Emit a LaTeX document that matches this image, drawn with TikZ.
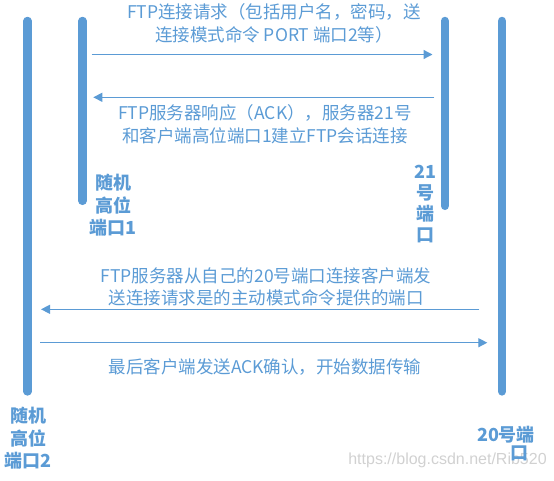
\documentclass[tikz,border=0pt]{standalone}
\usepackage{fontspec}
\setmainfont{Noto Sans CJK SC}
\newfontfamily\markfont{Liberation Sans}
\usetikzlibrary{calc}
\usetikzlibrary{positioning}
\usetikzlibrary{arrows.meta}
\definecolor{ftpblue}{HTML}{5B9BD5}
\tikzstyle{portbar} = [draw=ftpblue, line width=8.3pt, line cap=round]
\tikzstyle{msgarrow} = [draw=ftpblue, line width=1.3pt, -{Triangle[length=9pt, width=9pt]}]
\tikzstyle{msgtext} = [text=ftpblue, align=center, inner sep=0pt, font=\fontsize{17.5}{22.7}\selectfont]
\tikzstyle{portlabel} = [text=ftpblue, align=center, inner sep=0pt, font=\bfseries\fontsize{18}{22.5}\selectfont]

\begin{document}
\begin{tikzpicture}[x=1pt, y=-1pt]
    \useasboundingbox (0,0) rectangle (554,480);

    % port bars
    \coordinate (data_cli_top) at (27.5,20.9);
    \coordinate (data_cli_bot) at ($(data_cli_top)+(0,370.6)$);
    \coordinate (ctrl_cli_top) at (82.5,20.9);
    \coordinate (ctrl_cli_bot) at ($(ctrl_cli_top)+(0,180)$);
    \coordinate (ctrl_srv_top) at (444.8,20.9);
    \coordinate (ctrl_srv_bot) at ($(ctrl_srv_top)+(0,185)$);
    \coordinate (data_srv_top) at (502,20.9);
    \coordinate (data_srv_bot) at ($(data_srv_top)+(0,370.6)$);
    \draw[portbar] (data_cli_top) -- (data_cli_bot);
    \draw[portbar] (ctrl_cli_top) -- (ctrl_cli_bot);
    \draw[portbar] (ctrl_srv_top) -- (ctrl_srv_bot);
    \draw[portbar] (data_srv_top) -- (data_srv_bot);

    % control connection
    \coordinate (req_from) at ($(ctrl_cli_top)+(9.2,33.6)$);
    \coordinate (req_to) at ($(ctrl_srv_top)+(-12.3,33.6)$);
    \coordinate (ack_from) at ($(ctrl_srv_top)+(-10.5,76.4)$);
    \coordinate (ack_to) at ($(ctrl_cli_top)+(10.8,76.4)$);
    \draw[msgarrow] (req_from) -- (req_to);
    \draw[msgarrow] (ack_from) -- (ack_to);
    \node[msgtext] (req_text) at (274,23) {FTP连接请求（包括用户名，密码，送\\连接模式命令 PORT 端口2等）};
    \node[msgtext] (ack_text) at (265,124.3) {FTP服务器响应（ACK），服务器21号\\和客户端高位端口1建立FTP会话连接};

    % data connection
    \coordinate (act_from) at ($(data_srv_top)+(-22.7,288.4)$);
    \coordinate (act_to) at ($(data_cli_top)+(13.5,288.4)$);
    \coordinate (fin_from) at ($(data_cli_top)+(12.5,321.8)$);
    \coordinate (fin_to) at ($(data_srv_top)+(-14.7,321.8)$);
    \draw[msgarrow] (act_from) -- (act_to);
    \draw[msgarrow] (fin_from) -- (fin_to);
    \node[msgtext] (act_text) at (266,286.7) {FTP服务器从自己的20号端口连接客户端发\\送连接请求是的主动模式命令提供的端口};
    \node[msgtext] (fin_text) at (265,367.3) {最后客户端发送ACK确认，开始数据传输};

    \node[text=black!18, inner sep=0pt, font=\markfont\fontsize{16}{18}\selectfont] (watermark) at (447.5,460.5) {https://blog.csdn.net/Rib520};

    % port labels
    \node[portlabel] (ctrl_cli_lbl) at (113,205.5) {随机\\高位\\端口1};
    \node[portlabel, font=\bfseries\fontsize{18}{21}\selectfont] (ctrl_srv_lbl) at (425,204) {21\\号\\端\\口};
    \node[portlabel] (data_cli_lbl) at (28.4,438.5) {随机\\高位\\端口2};
    \node[portlabel, align=left, font=\bfseries\fontsize{18}{18}\selectfont] (data_srv_lbl) at (506,444) {20号端\\\hspace*{1.85em}口};
\end{tikzpicture}
\end{document}
